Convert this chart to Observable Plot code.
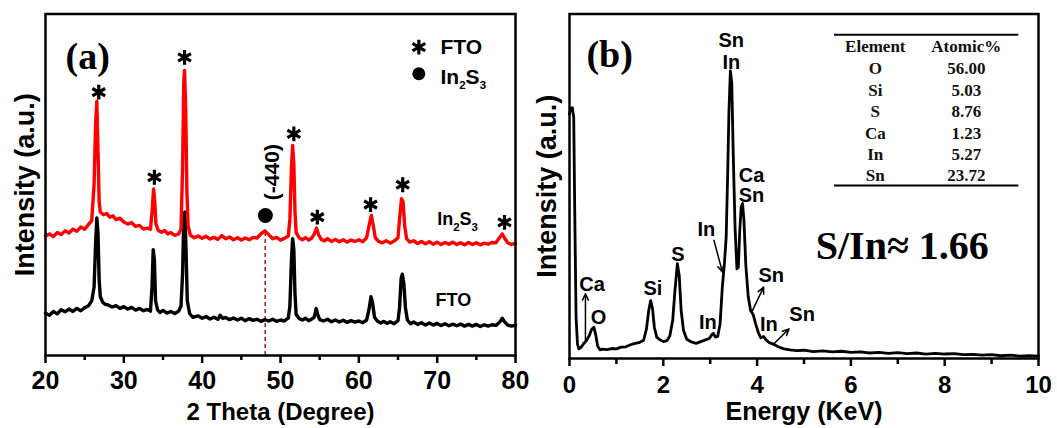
<!DOCTYPE html>
<html><head><meta charset="utf-8">
<script src="https://cdn.jsdelivr.net/npm/d3@7"></script>
<script src="https://cdn.jsdelivr.net/npm/@observablehq/plot@0.6"></script>
<style>
body{margin:0;background:#fff;}
#wrap{position:relative;width:1057px;height:428px;overflow:hidden;background:#fff;}
#pa{position:absolute;left:0;top:0;}
#pb{position:absolute;left:530px;top:0;}
</style></head><body><div id="wrap"><div id="pa"></div><div id="pb"></div></div>
<script>
const SANS = "'Liberation Sans', Arial, Helvetica, sans-serif";
const SERIF = "'Liberation Serif', 'Times New Roman', Times, serif";

// ---------- Panel (a): XRD ----------
const ftoXRD = [
[20.0,12.4],[20.5,11.8],[21.0,12.9],[21.5,12.2],[22.0,13.4],[22.5,12.8],[23.0,13.6],[23.5,12.9],[24.0,13.8],[24.5,13.1],
[25.0,14.0],[25.5,14.6],[25.9,16.0],[26.2,20],[26.4,33],[26.55,40.3],[26.7,36],[26.85,22],[27.0,17.2],[27.3,15.6],
[27.6,15.0],[28.0,14.8],[28.5,14.2],[29.0,14.6],[29.5,13.8],[30.0,14.3],[30.5,13.6],[31.0,14.1],[31.5,13.3],[32.0,13.8],
[32.5,13.1],[33.0,13.5],[33.4,13.0],[33.6,20],[33.75,31.0],[33.9,28],[34.05,16],[34.3,13.4],[34.6,12.6],[35.0,13.2],
[35.5,12.4],[36.0,12.9],[36.5,12.3],[37.0,13.0],[37.3,14.5],[37.5,24],[37.65,40],[37.8,42],[37.95,30],[38.1,16],
[38.4,12.3],[38.8,11.2],[39.5,11.6],[40.0,10.9],[40.5,11.4],[41.0,10.7],[41.5,11.2],[42.0,10.6],[42.3,11.8],[42.6,10.9],
[43.0,11.1],[43.5,10.5],[44.0,11.0],[44.5,10.4],[45.0,10.9],[45.5,10.2],[46.0,10.8],[46.5,10.3],[47.0,10.6],[47.5,10.0],
[48.0,10.5],[48.5,10.1],[49.0,10.6],[49.5,10.0],[50.0,10.4],[50.5,10.1],[51.0,11.0],[51.2,14.5],[51.4,28],[51.55,34.2],
[51.7,31],[51.85,18],[52.0,12.0],[52.4,10.8],[52.8,10.4],[53.2,10.9],[53.6,10.2],[54.0,10.7],[54.3,11.2],[54.55,13.8],
[54.75,12.0],[55.0,10.5],[55.5,10.1],[56.0,10.6],[56.5,9.9],[57.0,10.4],[57.5,9.8],[58.0,10.3],[58.5,9.7],[59.0,10.2],
[59.5,9.8],[60.0,10.1],[60.5,9.6],[61.0,10.4],[61.3,13.5],[61.55,17.2],[61.75,15.5],[62.0,11.2],[62.4,10.0],[62.8,9.5],
[63.2,10.0],[63.6,9.4],[64.0,9.9],[64.5,9.3],[65.0,10.2],[65.2,14],[65.4,22.5],[65.55,23.8],[65.75,21],[65.95,14],
[66.2,10.4],[66.6,9.3],[67.0,9.8],[67.5,9.1],[68.0,9.6],[68.5,8.9],[69.0,9.5],[69.5,8.9],[70.0,9.4],[70.5,8.8],
[71.0,9.3],[71.5,8.7],[72.0,9.2],[72.5,8.7],[73.0,9.2],[73.5,8.6],[74.0,9.1],[74.5,8.6],[75.0,9.1],[75.5,8.5],
[76.0,9.0],[76.5,8.6],[77.0,9.0],[77.5,8.8],[78.0,9.8],[78.3,10.9],[78.6,9.9],[79.0,8.9],[79.5,8.6],[80.0,8.9]
];
const in2s3XRD = [
[20.0,35.0],[20.5,35.6],[21.0,34.8],[21.5,36.0],[22.0,35.4],[22.5,36.5],[23.0,35.9],[23.5,37.0],[24.0,36.4],[24.5,37.6],
[25.0,37.0],[25.5,38.4],[25.9,39.5],[26.2,50],[26.4,68],[26.55,74.5],[26.7,60],[26.85,45],[27.0,42.0],[27.4,41.2],
[27.8,41.6],[28.2,40.5],[28.6,40.9],[29.0,39.8],[29.5,40.2],[30.0,39.1],[30.5,38.5],[31.0,38.9],[31.5,37.8],[32.0,38.1],
[32.5,37.0],[33.0,37.3],[33.4,37.0],[33.6,42],[33.8,48.8],[33.95,45],[34.1,38.5],[34.4,36.6],[34.8,36.1],[35.2,36.6],
[35.6,35.6],[36.0,36.0],[36.5,35.2],[37.0,35.6],[37.3,37],[37.5,55],[37.65,80],[37.75,83.5],[37.9,72],[38.05,48],
[38.2,38],[38.5,35.2],[39.0,34.5],[39.5,35.0],[40.0,34.3],[40.5,34.9],[41.0,34.1],[41.5,34.6],[42.0,34.0],[42.5,35.1],
[43.0,34.2],[43.5,34.7],[44.0,33.9],[44.5,34.5],[45.0,33.8],[45.5,34.4],[46.0,33.9],[46.5,34.6],[47.0,34.4],[47.5,35.6],
[48.0,36.5],[48.5,35.4],[49.0,34.2],[49.5,34.6],[50.0,33.8],[50.5,34.3],[51.0,35.0],[51.2,40],[51.4,55],[51.55,61.5],
[51.7,56],[51.85,42],[52.0,36.0],[52.4,34.4],[52.8,33.9],[53.2,34.5],[53.6,33.8],[54.0,34.4],[54.3,35.5],[54.6,37.3],
[54.85,35.4],[55.2,34.0],[55.6,33.6],[56.0,34.2],[56.5,33.4],[57.0,34.0],[57.5,33.3],[58.0,33.9],[58.5,33.2],[59.0,33.8],
[59.5,33.4],[60.0,33.9],[60.5,33.3],[61.0,34.5],[61.3,38],[61.6,41.0],[61.85,38],[62.1,34.5],[62.5,33.4],[63.0,33.0],
[63.5,33.6],[64.0,32.9],[64.5,33.5],[65.0,34.5],[65.2,40],[65.45,45.9],[65.65,45],[65.85,38],[66.1,34.2],[66.5,33.2],
[67.0,33.6],[67.5,32.8],[68.0,33.4],[68.5,32.7],[69.0,33.3],[69.5,32.6],[70.0,33.2],[70.5,32.5],[71.0,33.1],[71.5,32.6],
[72.0,33.2],[72.5,32.5],[73.0,33.0],[73.5,32.4],[74.0,33.1],[74.5,32.5],[75.0,33.0],[75.5,32.4],[76.0,32.9],[76.5,32.6],
[77.0,33.1],[77.5,33.0],[78.0,34.6],[78.3,35.6],[78.6,34.4],[79.0,33.0],[79.5,32.5],[80.0,32.9]
];
const xTicksA = [20, 30, 40, 50, 60, 70, 80];
const xMinorA = [25, 35, 45, 55, 65, 75];
// FTO peak markers (2θ, position above peak)
const starsA = [[26.8,77.1],[33.9,52.2],[37.75,87.3],[51.7,64.9],[54.7,40.5],[61.5,44.2],[65.6,50.0],[78.6,39.0]];
const in2s3Peak = [[48.07, 41.0]];
const planeLabel = [["(-440)", 48.9, 53.7]];
const dashA = [[48.05, 0, 36.2]];
const legendStar = [[67.66, 90.3]];
const legendDot = [[67.66, 82.5]];
const legendText = [["FTO", 70.43, 88.3], ["In2S3", 70.43, 79.6]];
const curveLabels = [["In2S3", 70.0, 38.1], ["FTO", 69.8, 14.6]];
const panelA = [["(a)", 22.55, 84]];

// ---------- Panel (b): EDS ----------
const edsSpectrum = [
[0.00,71],[0.03,72.5],[0.06,72.8],[0.09,70],[0.11,45],[0.14,12],[0.17,4.2],[0.20,2.8],[0.25,3.3],[0.30,4.3],
[0.36,5.2],[0.42,6.6],[0.47,8.4],[0.52,9.1],[0.56,6.8],[0.60,3.6],[0.65,2.5],[0.70,2.7],[0.80,2.6],[0.90,2.9],
[1.00,2.8],[1.10,3.3],[1.20,3.4],[1.30,4.0],[1.40,4.4],[1.50,4.7],[1.58,5.3],[1.64,8.5],[1.69,14],[1.73,16.8],
[1.77,14.5],[1.81,9],[1.86,6.2],[1.92,5.5],[2.00,4.9],[2.08,5.2],[2.14,6.6],[2.20,11],[2.25,20],[2.30,27.5],
[2.34,24],[2.38,14],[2.43,8.2],[2.50,5.6],[2.60,4.8],[2.70,4.4],[2.80,4.9],[2.90,5.4],[2.98,5.8],[3.04,7.0],
[3.07,7.3],[3.11,6.2],[3.16,6.4],[3.21,10],[3.26,21],[3.30,27],[3.34,35],[3.37,52],[3.40,72],[3.43,83.5],
[3.46,80],[3.49,60],[3.53,38],[3.57,26],[3.60,26.5],[3.63,37],[3.66,44],[3.69,45],[3.72,40],[3.76,27],
[3.81,18],[3.86,14],[3.92,12.6],[3.97,10],[4.03,7.4],[4.08,6.0],[4.14,6.4],[4.19,5.4],[4.26,4.6],[4.36,4.1],
[4.45,3.4],[4.57,2.8],[4.70,2.5],[4.85,2.3],[5.00,2.4],[5.20,2.0],[5.40,2.2],[5.60,1.9],[5.80,2.1],[6.00,1.8],
[6.20,1.9],[6.40,1.6],[6.60,1.8],[6.80,1.5],[7.00,1.7],[7.20,1.4],[7.40,1.6],[7.60,1.3],[7.80,1.5],[8.00,1.3],
[8.20,1.4],[8.40,1.1],[8.60,1.2],[8.80,1.0],[9.00,1.1],[9.20,0.8],[9.40,1.0],[9.60,0.7],[9.80,0.8],[10.00,0.7]
];
const xTicksB = [0, 2, 4, 6, 8, 10];
const xMinorB = [1, 3, 5, 7, 9];
const peakLabelsB = [
["Sn",3.45,90.4],["In",3.45,84.1],["Ca",3.88,51.2],["Sn",3.88,45.4],
["In",2.92,35.7],["S",2.31,28.4],["Si",1.78,18.3],["Ca",0.48,19.7],["O",0.62,10.1],
["In",2.95,8.6],["Sn",4.3,22.1],["In",4.25,8.1],["Sn",4.96,11.0]
];
const arrowsB = [
[0.34,5.2,0.34,18.8],
[3.08,34.3,3.26,25.1],
[3.90,13.9,4.14,20.7],
[4.36,4.3,4.68,8.6]
];
const tableElements = ["O", "Si", "S", "Ca", "In", "Sn"];
const tableAtomic = ["56.00", "5.03", "8.76", "1.23", "5.27", "23.72"];
const tableRowY = [82.6, 76.3, 70.0, 63.8, 57.5, 51.5];
const tableHeader = [["Element", 6.52, 88.9], ["Atomic%", 8.46, 88.9]];
const tableRules = [94.0, 50.2];
const tableCols = [6.52, 8.46];
const tableSpan = [5.65, 9.58];
const ratioText = [["S/In\u2248 1.66", 5.25, 29.0]];
const panelB = [["(b)", 0.36, 84.7]];

const X = d => d[0], Y = d => d[1];

function subscriptify(svg) {
  d3.select(svg).selectAll("text").each(function () {
    if (this.textContent !== "In2S3") return;
    const fs = parseFloat(getComputedStyle(this).fontSize) || 16;
    const t = d3.select(this);
    t.text("");
    const sh = fs * 0.32;
    t.append("tspan").text("In");
    t.append("tspan").text("2").attr("dy", sh).attr("font-size", fs * 0.72);
    t.append("tspan").text("S").attr("dy", -sh);
    t.append("tspan").text("3").attr("dy", sh).attr("font-size", fs * 0.72);
  });
}

const plotA = Plot.plot({
  width: 530, height: 428,
  marginLeft: 45, marginRight: 15, marginTop: 13.5, marginBottom: 73,
  x: {domain: [20, 80]},
  y: {domain: [0, 100], axis: null},
  style: {fontFamily: SANS, background: "white", color: "black"},
  marks: [
    Plot.ruleX(dashA, {x: d => d[0], y1: d => d[1], y2: d => d[2], stroke: "#a8242a", strokeWidth: 1.6, strokeDasharray: "4,3"}),
    Plot.line(ftoXRD, {x: X, y: Y, stroke: "black", strokeWidth: 3.4, strokeLinejoin: "round"}),
    Plot.line(in2s3XRD, {x: X, y: Y, stroke: "#ff0000", strokeWidth: 3.4, strokeLinejoin: "round"}),
    Plot.dot(starsA, {x: X, y: Y, symbol: "asterisk", r: 7, stroke: "black", strokeWidth: 3.2}),
    Plot.dot(in2s3Peak, {x: X, y: Y, r: 7.5, fill: "black", stroke: "none"}),
    Plot.text(planeLabel, {x: d => d[1], y: d => d[2], text: d => d[0], rotate: -90, textAnchor: "middle", lineAnchor: "middle", fontSize: 21, fontWeight: "bold", fill: "black"}),
    Plot.dot(legendStar, {x: X, y: Y, symbol: "asterisk", r: 7, stroke: "black", strokeWidth: 3.2}),
    Plot.dot(legendDot, {x: X, y: Y, r: 6.5, fill: "black", stroke: "none"}),
    Plot.text(legendText, {x: d => d[1], y: d => d[2], text: d => d[0], textAnchor: "start", lineAnchor: "bottom", fontSize: 21, fontWeight: "bold", fill: "black"}),
    Plot.text(curveLabels, {x: d => d[1], y: d => d[2], text: d => d[0], textAnchor: "start", lineAnchor: "bottom", fontSize: 18, fontWeight: "bold", fill: "black"}),
    Plot.text(panelA, {x: d => d[1], y: d => d[2], text: d => d[0], textAnchor: "start", lineAnchor: "bottom", fontFamily: SERIF, fontSize: 38, fontWeight: "bold", fill: "black"}),
    Plot.frame({stroke: "black", strokeWidth: 2.5}),
    Plot.axisX({ticks: xTicksA, tickSize: 8, tickPadding: 8, tickFormat: d => String(d), fontSize: 25, fontWeight: "bold", strokeWidth: 2.5, label: null, color: "black"}),
    Plot.axisX({ticks: xMinorA, tickSize: 5, tickFormat: () => "", strokeWidth: 2.5, label: null, color: "black"}),
    Plot.text(["Intensity (a.u.)"], {text: d => d, frameAnchor: "left", rotate: -90, dx: -12, textAnchor: "middle", lineAnchor: "bottom", fontSize: 27, fontWeight: "bold", fill: "black"}),
    Plot.text(["2 Theta (Degree)"], {text: d => d, frameAnchor: "bottom", dy: 64, textAnchor: "middle", lineAnchor: "bottom", fontSize: 24, fontWeight: "bold", fill: "black"})
  ]
});
subscriptify(plotA);
document.getElementById("pa").appendChild(plotA);

const tableData = tableElements.map((e, i) => ({e, a: tableAtomic[i], y: tableRowY[i]}));

const plotB = Plot.plot({
  width: 527, height: 428,
  marginLeft: 39, marginRight: 19, marginTop: 13.5, marginBottom: 70,
  x: {domain: [0, 10]},
  y: {domain: [0, 100], axis: null},
  style: {fontFamily: SANS, background: "white", color: "black"},
  marks: [
    Plot.line(edsSpectrum, {x: X, y: Y, stroke: "black", strokeWidth: 2.8, strokeLinejoin: "round"}),
    Plot.arrow(arrowsB, {x1: d => d[0], y1: d => d[1], x2: d => d[2], y2: d => d[3], stroke: "black", strokeWidth: 1.5, headLength: 7, headAngle: 50}),
    Plot.text(peakLabelsB, {x: d => d[1], y: d => d[2], text: d => d[0], textAnchor: "middle", lineAnchor: "bottom", fontSize: 20, fontWeight: "bold", fill: "black"}),
    Plot.ruleY(tableRules, {x1: tableSpan[0], x2: tableSpan[1], stroke: "black", strokeWidth: 2}),
    Plot.text(tableHeader, {x: d => d[1], y: d => d[2], text: d => d[0], textAnchor: "middle", lineAnchor: "bottom", fontFamily: SERIF, fontSize: 17, fontWeight: "bold", fill: "#111"}),
    Plot.text(tableData, {x: tableCols[0], y: "y", text: "e", textAnchor: "middle", lineAnchor: "bottom", fontFamily: SERIF, fontSize: 17, fontWeight: "bold", fill: "#111"}),
    Plot.text(tableData, {x: tableCols[1], y: "y", text: "a", textAnchor: "middle", lineAnchor: "bottom", fontFamily: SERIF, fontSize: 17, fontWeight: "bold", fill: "#111"}),
    Plot.text(ratioText, {x: d => d[1], y: d => d[2], text: d => d[0], textAnchor: "start", lineAnchor: "bottom", fontFamily: SERIF, fontSize: 40, fontWeight: "bold", fill: "black"}),
    Plot.text(panelB, {x: d => d[1], y: d => d[2], text: d => d[0], textAnchor: "start", lineAnchor: "bottom", fontFamily: SERIF, fontSize: 38, fontWeight: "bold", fill: "black"}),
    Plot.frame({stroke: "black", strokeWidth: 2.5}),
    Plot.axisX({ticks: xTicksB, tickSize: 8, tickPadding: 9, tickFormat: d => String(d), fontSize: 24, fontWeight: "bold", strokeWidth: 2.5, label: null, color: "black"}),
    Plot.axisX({ticks: xMinorB, tickSize: 6, tickFormat: () => "", strokeWidth: 2.5, label: null, color: "black"}),
    Plot.text(["Intensity (a.u.)"], {text: d => d, frameAnchor: "left", rotate: -90, dx: -14, textAnchor: "middle", lineAnchor: "bottom", fontSize: 27, fontWeight: "bold", fill: "black"}),
    Plot.text(["Energy (KeV)"], {text: d => d, frameAnchor: "bottom", dy: 61, textAnchor: "middle", lineAnchor: "bottom", fontSize: 25, fontWeight: "bold", fill: "black"})
  ]
});
document.getElementById("pb").appendChild(plotB);
</script></body></html>
